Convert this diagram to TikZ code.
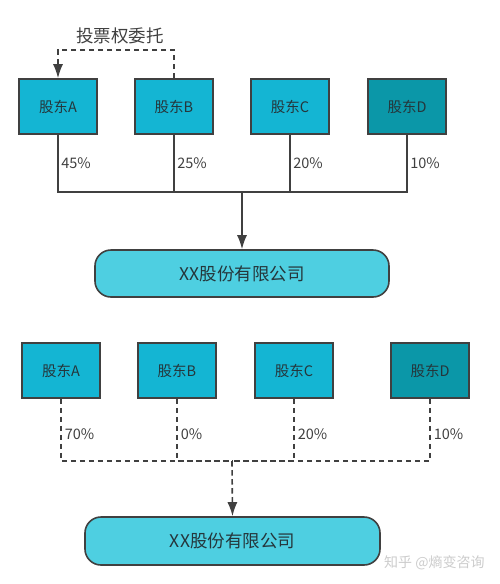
\documentclass[tikz,border=0pt]{standalone}
\usepackage{fontspec}
\setmainfont{Noto Sans CJK SC}
\usepackage{tikz}
\usetikzlibrary{arrows.meta}

\definecolor{holder}{HTML}{14B5D3}
\definecolor{holderdark}{HTML}{0B97A8}
\definecolor{firm}{HTML}{4ECFE1}
\definecolor{wire}{HTML}{404040}
\definecolor{ink}{HTML}{25363B}

\begin{document}
\begin{tikzpicture}[x=1pt,y=-1pt,line width=1.6pt,
  holderbox/.style={draw=wire,fill=holder,minimum width=78pt,minimum height=55pt,inner sep=0pt,text=ink,font=\fontsize{14.5}{16}\selectfont},
  firmbox/.style={draw=wire,fill=firm,minimum width=294pt,minimum height=47pt,rounded corners=16pt,text=ink,font=\fontsize{17.5}{20}\selectfont},
  share/.style={anchor=west,inner sep=0pt,text=wire,font=\fontsize{14.5}{16}\selectfont},
  link/.style={draw=wire},
  dash line/.style={dash pattern=on 5.5pt off 3.5pt},
  tip/.style={-{Latex[length=14pt,width=10pt]}}]
\useasboundingbox (0,0) rectangle (500,584);
% top: before the delegation
\foreach \n/\x/\p in {A/58/45,B/174/25,C/290/20,D/407/10} {
   \node[holderbox] (t\n) at (\x,106.5) {股东\n};
   \node[share] (tp\n) at (\x+2.5,163) {\p\%};
}
\node[holderbox,fill=holderdark] at (tD) {股东D};
\coordinate (tj) at (242,192);
\node[firmbox] (tco) at (242,273.5) {XX股份有限公司};
\foreach \n in {A,B,C,D} {
   \draw[link] (t\n.south) |- (tj);
}
\draw[link,tip] (tj) -- (tco.north);
% voting right delegation
\coordinate (vb) at (174,50);
\draw[link,dash line,tip] (tB.north) -- (vb) -| (tA.north);
\node[text=wire,font=\fontsize{17.5}{20}\selectfont] (vote) at (120,36) {投票权委托};
% bottom: after the delegation
\foreach \n/\x/\p in {A/61/70,B/177/0,C/294/20,D/430/10} {
   \node[holderbox] (b\n) at (\x,370.5) {股东\n};
   \node[share] (bp\n) at (\x+3,434) {\p\%};
}
\node[holderbox,fill=holderdark] at (bD) {股东D};
\coordinate (bj) at (232,461);
\node[firmbox,minimum width=295pt,minimum height=48pt] (bco) at (232.5,541) {XX股份有限公司};
\foreach \n in {A,B,C,D} {
   \draw[link,dash line] (b\n.south) |- (bj);
}
\draw[link,dash line,tip] (bj) -- (bco.north);
\node[text=black!20,font=\fontsize{14}{16}\selectfont,anchor=west] (wm) at (380,563) {知乎 @熵变咨询};
\end{tikzpicture}
\end{document}
